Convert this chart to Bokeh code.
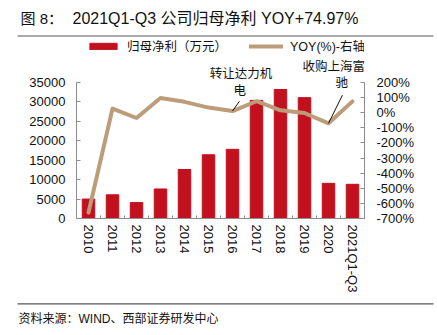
import math
from bokeh.plotting import figure
from bokeh.layouts import column
from bokeh.models import (Range1d, LinearAxis, FixedTicker, Legend, LegendItem,
                          Label, BoxAnnotation, ColumnDataSource)
from bokeh.embed import file_html
from bokeh.resources import INLINE

# ---------------- data ----------------
categories = ["2010", "2011", "2012", "2013", "2014", "2015", "2016",
              "2017", "2018", "2019", "2020", "2021Q1-Q3"]
profit = [5000, 6100, 4100, 7600, 12600, 16400, 17800,
          30400, 33200, 31100, 9050, 8800]          # 万元
yoy = [-660, 27, -35, 98, 72, 34, 11, 76, 16, -2, -70, 74.97]  # %
left_ticks = [0, 5000, 10000, 15000, 20000, 25000, 30000, 35000]
right_ticks = [-700, -600, -500, -400, -300, -200, -100, 0, 100, 200]

title_prefix = "图 8："
title_text = "2021Q1-Q3 公司归母净利 YOY+74.97%"
source_text = "资料来源：WIND、西部证券研发中心"
legend_bar = "归母净利（万元）"
legend_line = "YOY(%)-右轴"
note1 = ("转让达力机", "电", 6)
note2 = ("收购上海富", "驰", 10)

# ---------------- styles / layout ----------------
BAR = "#C3101F"
LINE = "#BD9C7A"
AXIS = "#8C8C8C"
RULE = "#555555"
TXT = "#111111"
CJK = "Liberation Sans, Noto Sans CJK SC"
LAT = "Liberation Sans"
W = 437
TOP_H, MAIN_H, BOT_H = 40, 255, 40
FRAME_LEFT, FRAME_RIGHT = 76, 364
AXIS_TOP_PX = 42      # where 35000 / 200% sits inside main frame (from top)
FRAME_H = 178         # frame height inside main figure
L_MIN, L_MAX = 0, 35000
R_MIN, R_MAX = -700, 200
axis_h = FRAME_H - AXIS_TOP_PX
l_top = L_MAX + (L_MAX - L_MIN) * AXIS_TOP_PX / axis_h
r_top = R_MAX + (R_MAX - R_MIN) * AXIS_TOP_PX / axis_h

idx = list(range(len(categories)))
src = ColumnDataSource(dict(x=idx, profit=profit, yoy=yoy))


def blank(h):
    # frame covers the whole strip; data units == pixels (y from bottom)
    f = figure(width=W, height=h, output_backend="svg", toolbar_location=None,
               x_axis_location=None, y_axis_location=None,
               x_range=Range1d(0, W), y_range=Range1d(0, h),
               min_border=0, outline_line_color=None, frame_align=False)
    f.grid.visible = False
    return f


def rule(y):
    return BoxAnnotation(left=17, right=433, bottom=y - 0.6, top=y + 0.6,
                         fill_color=RULE, fill_alpha=1, line_color=None)


def text_label(x, y, text, size, align="left"):
    return Label(x=x, y=y, text=text,
                 text_align=align, text_baseline="middle",
                 text_font=CJK, text_font_size=size, text_color=TXT)


# ---------------- title strip ----------------
top = blank(TOP_H)
top.add_layout(text_label(20, TOP_H - 18, title_prefix, "15px"))
top.add_layout(text_label(72, TOP_H - 18, title_text, "16px"))
top.add_layout(rule(TOP_H - 35.5))

# ---------------- main chart ----------------
p = figure(width=W, height=MAIN_H, output_backend="svg", toolbar_location=None,
           x_range=Range1d(-0.5, len(categories) - 0.5),
           y_range=Range1d(L_MIN, l_top), frame_align=False,
           min_border_left=FRAME_LEFT, min_border_right=W - FRAME_RIGHT,
           min_border_top=0, min_border_bottom=MAIN_H - FRAME_H)
p.extra_y_ranges = {"yoy": Range1d(R_MIN, r_top)}
p.outline_line_color = None
p.grid.visible = False

bars = p.vbar(x="x", top="profit", width=0.52, source=src,
              fill_color=BAR, line_color=BAR)
line = p.line(x="x", y="yoy", source=src, y_range_name="yoy",
              line_color=LINE, line_width=4, line_cap="round", line_join="round")

xa = p.xaxis[0]
xa.ticker = FixedTicker(ticks=idx, minor_ticks=[i + 0.5 for i in idx[:-1]])
xa.major_label_overrides = {i: c for i, c in zip(idx, categories)}
xa.major_label_orientation = -math.pi / 2
xa.major_tick_in = 0
xa.major_tick_out = 0
xa.minor_tick_in = 3
xa.minor_tick_out = 0
xa.minor_tick_line_color = AXIS
xa.axis_line_color = AXIS
xa.major_label_standoff = 6
xa.major_label_text_font = LAT
xa.major_label_text_font_size = "13px"
xa.major_label_text_color = TXT

ya = p.yaxis[0]
ya.ticker = FixedTicker(ticks=left_ticks)
ya.bounds = (L_MIN, L_MAX)
ya.major_tick_in = 4
ya.major_tick_out = 0
ya.minor_tick_line_color = None
ya.axis_line_color = AXIS
ya.major_tick_line_color = AXIS
ya.major_label_standoff = 11
ya.major_label_text_font = LAT
ya.major_label_text_font_size = "13px"
ya.major_label_text_color = TXT

ra = LinearAxis(y_range_name="yoy", ticker=FixedTicker(ticks=right_ticks),
                bounds=(R_MIN, R_MAX))
ra.major_label_overrides = {t: f"{t}%" for t in right_ticks}
ra.major_tick_in = 4
ra.major_tick_out = 0
ra.minor_tick_line_color = None
ra.axis_line_color = AXIS
ra.major_tick_line_color = AXIS
ra.major_label_standoff = 12
ra.major_label_text_font = LAT
ra.major_label_text_font_size = "13px"
ra.major_label_text_color = TXT
p.add_layout(ra, "right")

legend = Legend(items=[LegendItem(label=legend_bar, renderers=[bars]),
                       LegendItem(label=legend_line, renderers=[line])],
                orientation="horizontal", location=(10, 163),
                glyph_width=34, glyph_height=8, label_standoff=7, spacing=22,
                padding=0, margin=0, border_line_color=None,
                background_fill_alpha=0,
                label_text_font=CJK, label_text_font_size="12.5px",
                label_text_color=TXT, label_height=14)
p.add_layout(legend, "center")


def note_label(x, y, text):
    return Label(x=x, y=y, y_range_name="yoy", text=text,
                 text_align="center", text_baseline="middle",
                 text_font=CJK, text_font_size="12.5px", text_color=TXT)


p.add_layout(note_label(6.35, 258, note1[0]))
p.add_layout(note_label(6.3, 144, note1[1]))
p.add_layout(note_label(10.22, 305, note2[0]))
p.add_layout(note_label(10.55, 196, note2[1]))
p.segment(x0=[note1[2], note2[2]], y0=[yoy[note1[2]], yoy[note2[2]]],
          x1=[6.29, 10.58], y1=[76, 116], y_range_name="yoy",
          line_color=TXT, line_width=1)

# ---------------- source strip ----------------
bot = blank(BOT_H)
bot.add_layout(rule(BOT_H - 8.3))
bot.add_layout(text_label(18, BOT_H - 23, source_text, "12px"))

layout = column(top, p, bot, spacing=0)
open("out.html", "w").write(file_html(layout, INLINE))
